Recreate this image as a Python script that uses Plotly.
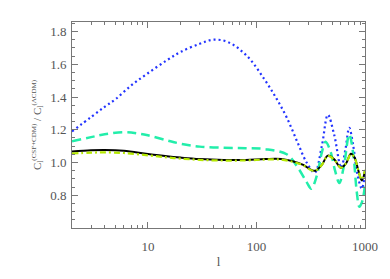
import plotly.graph_objects as go
import numpy as np

# black solid
l_black = [2, 3, 4, 6, 10, 15, 20, 30, 50, 80, 120, 170, 220, 270, 320, 350, 400, 455, 520, 600, 670, 740, 800, 870, 935, 1000]
v_black = [1.067, 1.075, 1.077, 1.072, 1.052, 1.038, 1.030, 1.021, 1.016, 1.016, 1.021, 1.021, 1.006, 0.985, 0.955, 0.950, 0.985, 1.042, 1.020, 0.968, 0.995, 1.053, 1.030, 0.950, 0.890, 0.950]
# lime dash-dot
v_lime = [1.055, 1.060, 1.062, 1.058, 1.044, 1.031, 1.024, 1.016, 1.012, 1.013, 1.018, 1.018, 1.003, 0.983, 0.953, 0.950, 0.985, 1.040, 1.018, 0.968, 0.995, 1.050, 1.030, 0.950, 0.895, 0.955]
# green dashed
l_green = [2, 3, 4, 6, 8, 10, 15, 20, 30, 50, 80, 120, 190, 240, 290, 320, 360, 400, 433, 480, 530, 580, 640, 716, 780, 840, 887, 940, 1000]
v_green = [1.13, 1.155, 1.172, 1.185, 1.178, 1.166, 1.135, 1.115, 1.097, 1.09, 1.087, 1.082, 1.05, 0.97, 0.88, 0.84, 0.92, 1.06, 1.127, 1.07, 0.95, 0.875, 0.98, 1.172, 1.05, 0.82, 0.73, 0.76, 0.86]
# blue dotted
l_blue = [2, 3, 4, 5, 7, 10, 15, 20, 30, 40, 55, 82, 117, 150, 190, 240, 290, 344, 400, 455, 520, 603, 660, 716, 780, 850, 935, 1000]
v_blue = [1.19, 1.278, 1.34, 1.385, 1.47, 1.545, 1.625, 1.675, 1.725, 1.75, 1.735, 1.65, 1.513, 1.40, 1.275, 1.12, 1.00, 0.938, 1.10, 1.291, 1.17, 0.968, 1.08, 1.212, 1.10, 0.93, 0.84, 0.94]

y_ticks = [0.8, 1.0, 1.2, 1.4, 1.6, 1.8]
x_ticks = [10, 100, 1000]

fig = go.Figure()
fig.add_trace(go.Scatter(x=l_blue, y=v_blue, mode='lines', line=dict(color='#2233ff', width=2.2, dash='2px,3px', shape='spline')))
fig.add_trace(go.Scatter(x=l_green, y=v_green, mode='lines', line=dict(color='#22eeaa', width=2.5, dash='9px,5px', shape='spline')))
fig.add_trace(go.Scatter(x=l_black, y=v_black, mode='lines', line=dict(color='black', width=2, shape='spline')))
fig.add_trace(go.Scatter(x=l_black, y=v_lime, mode='lines', line=dict(color='#b4e800', width=2.2, dash='6px,3px,2px,3px', shape='spline')))

axcol = '#777777'
font = dict(family='Liberation Serif', size=13, color='#555555')
ytitle = ('C<sub>l</sub><sup><span style="font-size:7px">(CSF+CDM)</span></sup>'
          ' / C<sub>l</sub><sup><span style="font-size:7px">(ΛCDM)</span></sup>')
fig.update_layout(
    width=382, height=271, showlegend=False,
    margin=dict(l=64, r=14, t=14, b=38),
    plot_bgcolor='white', paper_bgcolor='white',
    font=font,
    xaxis=dict(type='log', range=[np.log10(2), 3], tickvals=x_ticks, ticktext=[str(t) for t in x_ticks],
               ticks='inside', ticklen=6, tickcolor=axcol, showline=True, linecolor=axcol, linewidth=1,
               mirror='ticks', showgrid=False, zeroline=False, ticklabelstandoff=6,
               minor=dict(ticks='inside', ticklen=3, tickcolor=axcol, tickvals=[2,3,4,5,6,7,8,9,20,30,40,50,60,70,80,90,200,300,400,500,600,700,800,900]),
               title=dict(text='l', font=dict(size=13, color='#555555'), standoff=4)),
    yaxis=dict(range=[0.6, 1.858], tickvals=y_ticks, ticktext=['0.8', '1.0', '1.2', '1.4', '1.6', '1.8'],
               ticks='inside', ticklen=6, tickcolor=axcol, showline=True, linecolor=axcol, linewidth=1,
               mirror='ticks', showgrid=False, zeroline=False, ticklabelstandoff=2,
               minor=dict(ticks='inside', ticklen=3, tickcolor=axcol, dtick=0.05),
               title=dict(text=ytitle, font=dict(size=11, color='#555555'), standoff=6)),
)
fig.write_html('out.html')
